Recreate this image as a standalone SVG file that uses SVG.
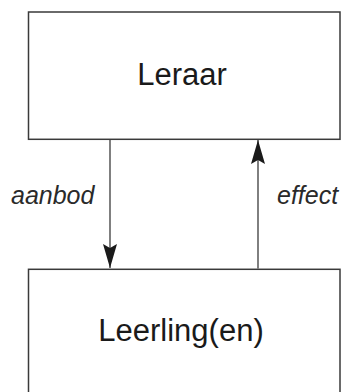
<svg xmlns="http://www.w3.org/2000/svg" width="342" height="392" viewBox="0 0 342 392">
  <style>
    .box { fill: #ffffff; stroke: #3a3a3a; stroke-width: 1.5; }
    .title { font-family: "Liberation Sans", Arial, sans-serif; font-size: 31px; fill: #1a1a1a; text-anchor: middle; }
    .label { font-family: "Liberation Sans", Arial, sans-serif; font-size: 25px; font-style: italic; fill: #2a2a2a; }
    .link { stroke: #2a2a2a; stroke-width: 1.2; fill: none; }
  </style>
  <defs>
    <marker id="head" viewBox="0 0 24 14" refX="24" refY="7" markerWidth="24" markerHeight="14" markerUnits="userSpaceOnUse" orient="auto">
      <path d="M0,0 L24,7 L0,14 L4,7 Z" fill="#1a1a1a"/>
    </marker>
  </defs>
  <rect width="342" height="392" fill="#ffffff"/>

  <g id="leraar">
    <rect class="box" x="28.5" y="12" width="311.5" height="127.3"/>
    <text class="title" x="182" y="85">Leraar</text>
  </g>

  <g id="leerlingen">
    <rect class="box" x="28.5" y="269.3" width="311.5" height="130"/>
    <text class="title" x="181" y="341">Leerling(en)</text>
  </g>

  <g id="connectors">
    <line class="link" x1="110" y1="140" x2="110" y2="268" marker-end="url(#head)"/>
    <line class="link" x1="258" y1="268.5" x2="258" y2="140" marker-end="url(#head)"/>
    <text class="label" x="11" y="204">aanbod</text>
    <text class="label" x="277" y="204">effect</text>
  </g>
</svg>
